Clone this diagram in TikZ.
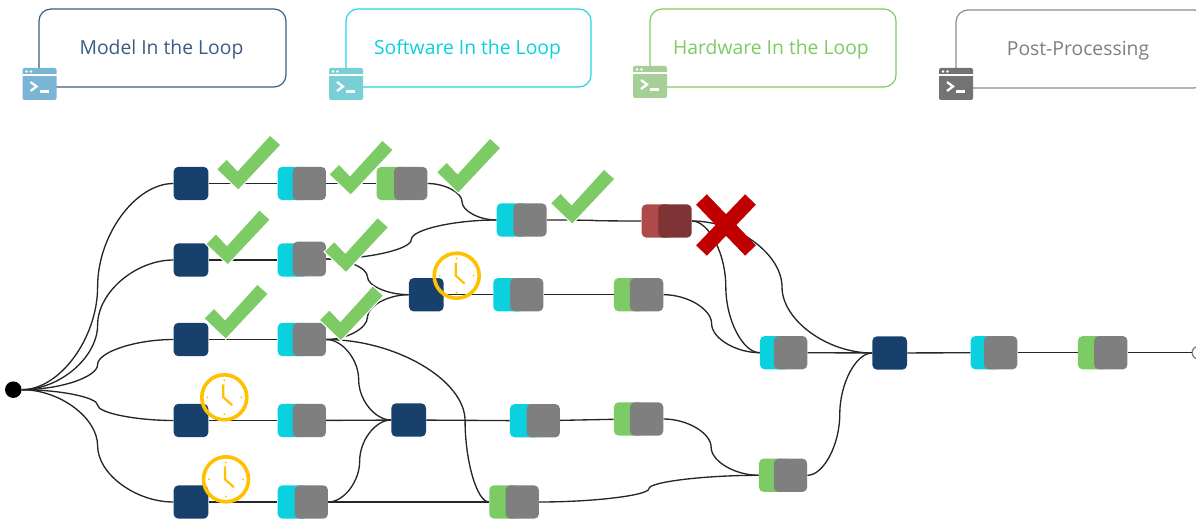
\documentclass[tikz,border=0pt]{standalone}
\usepackage{fontspec}
\setmainfont{Open Sans}
\usetikzlibrary{calc}

\definecolor{milblue}{HTML}{17406D}
\definecolor{silcyan}{HTML}{0BD1DE}
\definecolor{hilgreen}{HTML}{7DCB64}
\definecolor{ppgray}{HTML}{7F7F7F}
\definecolor{failred}{HTML}{C00000}
\definecolor{waitgold}{HTML}{FFC000}
\definecolor{failleft}{HTML}{B04A4A}
\definecolor{failright}{HTML}{7E3434}
\definecolor{iconmil}{HTML}{7AB5D6}
\definecolor{iconsil}{HTML}{78D0D6}
\definecolor{iconhil}{HTML}{A5CF96}
\definecolor{iconpp}{HTML}{737373}

\tikzset{
  stagebox/.style={inner sep=0pt, rounded corners=3.5pt, minimum height=25pt},
  milbox/.style={stagebox, fill=milblue, minimum width=26pt},
  silbox/.style={stagebox, fill=silcyan, minimum width=23pt},
  hilbox/.style={stagebox, fill=hilgreen, minimum width=23pt},
  ppbox/.style={stagebox, fill=ppgray, minimum width=25pt},
  headbox/.style={rounded corners=9pt, line width=.9pt, fill=white},
  headtext/.style={inner sep=0pt, font=\fontsize{14.5}{16}\selectfont},
  flowlink/.style={to path={let \p1=(\tikztostart),\p2=(\tikztotarget),
    \p3=({#1*\x2+(1-#1)*\x1},{.5*\y1+.5*\y2}) in
    .. controls ({.5*\x1+.5*\x3},\y1) and (\x3,{.5*\y1+.5*\y3}) .. (\p3)
    .. controls (\x3,{.5*\y3+.5*\y2}) and ({.5*\x3+.5*\x2},\y2) .. (\p2)}},
  flowlink/.default=.5,
  wire/.style={draw=black!85, line width=1pt},
  okmark/.pic={
    \fill[hilgreen, preaction={draw=white, line width=1.8pt}] (0,0) -- (-21,-20) -- (-11.7,-29.3)
      -- (-.7,-17.7) -- (31.7,-53.3) -- (41.7,-44.3) -- cycle;
  },
  failmark/.pic={
    \draw[failred, line width=11.2pt] (-24.5,-25.5) -- (24.5,25.5);
    \draw[failred, line width=11.2pt] (-24.5,25.5) -- (24.5,-25.5);
  },
  waitmark/.pic={
    \draw[waitgold, line width=2.7pt] (0,0) circle (22.5);
    \foreach \a in {0,90,180,270}
      \fill[waitgold] (\a:17) circle (1);
    \draw[waitgold, line width=1.6pt] (-1,-13) -- (-1,0) -- (8,8);
  },
  termicon/.pic={
    \fill[#1, rounded corners=1.5pt] (-17,-16) rectangle (17,16);
    \draw[white, line width=.8pt] (-17,-9) -- (17,-9);
    \fill[white] (-13,-12.5) circle (1.4) (-8.5,-12.5) circle (1.4);
    \draw[white, line width=1.7pt] (-9,-2) -- (-3,2.5) -- (-9,7);
    \draw[white, line width=1.7pt] (0,7.5) -- (9,7.5);
  },
}

\begin{document}
\begin{tikzpicture}[x=.75pt, y=-.75pt]
    \useasboundingbox (0,0) rectangle (1196,520);
    % Legend
    \draw[headbox, draw=milblue!85] (39,9) rectangle (286,87);
    \draw[headbox, draw=silcyan!90] (346,9) rectangle (591,87);
    \draw[headbox, draw=hilgreen] (650,9) rectangle (896,87);
    \draw[headbox, draw=ppgray!90] (956,10) rectangle (1206,88);
    \node[headtext, text=milblue!85] (headmil) at (161.5,49.5) {Model In the Loop};
    \node[headtext, text=silcyan] (headsil) at (467.5,49.5) {Software In the Loop};
    \node[headtext, text=hilgreen] (headhil) at (771,49.5) {Hardware In the Loop};
    \node[headtext, text=ppgray] (headpp) at (1078,50.5) {Post-Processing};
    \pic at (39.5,84) {termicon=iconmil};
    \pic at (346,84) {termicon=iconsil};
    \pic at (650,82) {termicon=iconhil};
    \pic at (956,84) {termicon=iconpp};
    % Start and end
    \node[circle, fill=black, inner sep=0pt, minimum size=12.4pt] (root) at (13.3,389.7) {};
    \node[circle, draw=ppgray, line width=1pt, fill=white, inner sep=0pt, minimum size=9.5pt] (endpt) at (1198.5,352.7) {};
    % Model in the loop
    \node[milbox] (mil1) at (191,183.5) {};
    \node[milbox] (mil2) at (191,260) {};
    \node[milbox] (mil3) at (191,339.5) {};
    \node[milbox] (mil4) at (191,420.5) {};
    \node[milbox] (mil5) at (191,502) {};
    \node[milbox] (mil6) at (426.3,294.7) {};
    \node[milbox] (mil7) at (408.7,420) {};
    \node[milbox] (mil8) at (889.7,353) {};
    % Software in the loop
    \node[silbox] (sil1) at (293,183.5) {};
    \node[ppbox] (sil1p) at (309.3,183.5) {};
    \node[silbox] (sil2) at (512,220) {};
    \node[ppbox] (sil2p) at (530,220) {};
    \node[silbox] (sil3) at (293,260) {};
    \node[ppbox, minimum height=26pt] (sil3p) at (309.3,259) {};
    \node[silbox] (sil4) at (293,339.5) {};
    \node[ppbox] (sil4p) at (309.3,339.5) {};
    \node[silbox] (sil5) at (293,420.5) {};
    \node[ppbox] (sil5p) at (309.3,420.5) {};
    \node[silbox] (sil6) at (293,502) {};
    \node[ppbox] (sil6p) at (311.3,502) {};
    \node[silbox] (sil7) at (508.6,294.7) {};
    \node[ppbox] (sil7p) at (526.7,294.7) {};
    \node[silbox] (sil8) at (525.3,420.7) {};
    \node[ppbox] (sil8p) at (543.3,420.7) {};
    \node[silbox] (sil9) at (775.3,352.7) {};
    \node[ppbox] (sil9p) at (790.6,352.7) {};
    \node[silbox] (sil10) at (986,352.7) {};
    \node[ppbox] (sil10p) at (1000.6,352.7) {};
    % Hardware in the loop
    \node[hilbox] (hil1) at (392,183.5) {};
    \node[ppbox] (hil1p) at (410.7,183.5) {};
    \node[hilbox, fill=failleft] (hil2) at (657,221) {};
    \node[ppbox, fill=failright] (hil2p) at (675,221) {};
    \node[hilbox] (hil3) at (629.3,294.7) {};
    \node[ppbox] (hil3p) at (646.6,294.7) {};
    \node[hilbox] (hil4) at (629.3,419) {};
    \node[ppbox] (hil4p) at (646.6,419) {};
    \node[hilbox] (hil5) at (504.6,502) {};
    \node[ppbox] (hil5p) at (522.2,502) {};
    \node[hilbox] (hil6) at (774.3,475.3) {};
    \node[ppbox] (hil6p) at (790.5,475.3) {};
    \node[hilbox] (hil7) at (1093.3,352.7) {};
    \node[ppbox] (hil7p) at (1110.8,352.7) {};
    % From the start
    \draw[wire] (root.east) to[flowlink] (mil1.west);
    \draw[wire] (root.east) to[flowlink] (mil2.west);
    \draw[wire] (root.east) to[flowlink] (mil3.west);
    \draw[wire] (root.east) to[flowlink] (mil4.west);
    \draw[wire] (root.east) to[flowlink] (mil5.west);
    % Straight runs
    \draw[wire] (mil1) -- (sil1);
    \draw[wire] (sil1p) -- (hil1);
    \draw[wire] (mil2) -- (sil3);
    \draw[wire] (mil3) -- (sil4);
    \draw[wire] (mil4) -- (sil5);
    \draw[wire] (mil5) -- (sil6);
    \draw[wire] (sil6p) -- (hil5);
    \draw[wire] (mil6) -- (sil7);
    \draw[wire] (sil7p) -- (hil3);
    \draw[wire] (mil7) -- (sil8);
    \draw[wire] (sil8p) -- (hil4);
    \draw[wire] (sil2p.east) to[flowlink] (hil2.west);
    \draw[wire] (sil9p) -- (mil8);
    \draw[wire] (mil8) -- (sil10);
    \draw[wire] (sil10p) -- (hil7);
    \draw[wire] (hil7p) -- (endpt);
    % Curved joins
    \draw[wire] (hil1p.east) to[flowlink] (sil2.west);
    \draw[wire] (sil3p.east) to[flowlink] (sil2.west);
    \draw[wire] (sil3p.east) to[flowlink] (mil6.west);
    \draw[wire] (sil4p.east) to[flowlink] (mil6.west);
    \draw[wire] (sil4p.east) to[flowlink] (mil7.west);
    \draw[wire] (sil4p.east) to[flowlink=.853] (hil5.west);
    \draw[wire] (sil5p) -- (mil7);
    \draw[wire] (sil6p.east) to[flowlink] (mil7.west);
    \draw[wire] (hil5p.east) to[flowlink] (hil6.west);
    \draw[wire] (hil4p.east) to[flowlink] (hil6.west);
    \draw[wire] (hil6p.east) to[flowlink] (mil8.west);
    \draw[wire] (hil3p.east) to[flowlink] (sil9.west);
    \draw[wire] (hil2p.east) to[flowlink] (sil9.west);
    \draw[wire] (hil2p.east) to[flowlink] (mil8.west);
    % Finished
    \pic at (238.3,189.3) {okmark};
    \pic at (350.7,194.3) {okmark};
    \pic at (458.3,192.3) {okmark};
    \pic at (227.7,264) {okmark};
    \pic at (346,271.7) {okmark};
    \pic at (225.7,338.3) {okmark};
    \pic at (341,340) {okmark};
    \pic at (572.3,223.3) {okmark};
    % Waiting
    \pic at (456.7,275.7) {waitmark};
    \pic at (224.3,397.3) {waitmark};
    \pic at (226,479.3) {waitmark};
    % Failed
    \pic at (726,225) {failmark};
\end{tikzpicture}
\end{document}
